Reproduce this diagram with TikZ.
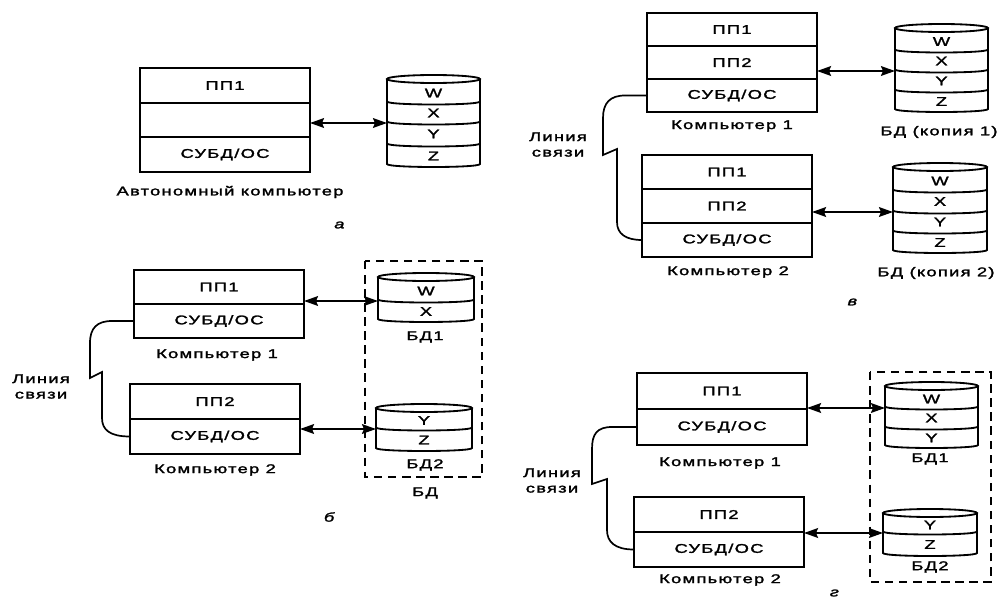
\documentclass[tikz,border=0pt]{standalone}
\usepackage{fontspec}
\setmainfont{Liberation Sans}[FakeStretch=1.45,LetterSpace=10,FakeBold=2]
\usetikzlibrary{arrows.meta,positioning}
\newcommand{\dbcan}[4]{%
	\draw[dbline] ({(#1+#2)/2},#3+4) ellipse ({(#2-#1)/2} and 4);
	\draw[dbline] (#1,#3+4) -- (#1,#4-3) .. controls (#1,#4+1) and (#2,#4+1) .. (#2,#4-3) -- (#2,#3+4);
}
\tikzset{
	complayer/.style={draw, line width=1.4pt, minimum width=4.25cm, minimum height=#1, inner sep=0pt, outer sep=0pt},
	dbrow/.style={inner sep=0pt, outer sep=0pt},
	dbline/.style={line width=1.3pt},
	xfer/.style={<->, >={Stealth[length=10pt,width=7pt,inset=1.5pt]}, line width=1.1pt},
	commline/.style={line width=1.2pt},
	dbframe/.style={line width=1.2pt, dash pattern=on 6pt off 4pt}
}

\begin{document}
\begin{tikzpicture}[x=0.025cm, y=-0.025cm, font=\small]
	\useasboundingbox (0,0) rectangle (1001,598);
	% a
	\node[complayer=0.875cm] (acA) at (225,85.5) {ПП1};
	\node[complayer=0.85cm, below=0pt of acA] (acB) {};
	\node[complayer=0.875cm, below=0pt of acB] (acC) {СУБД/ОС};
	\node (acap) at (230,192) {Автономный компьютер};
	\dbcan{387}{480}{75}{167}
	\foreach \y in {103,123,145} \draw[dbline] (387,\y-1.5) .. controls (387,\y+2.5) and (480,\y+2.5) .. (480,\y-1.5);
	\foreach \t/\c/\h in {W/93/20,X/113/20,Y/134/22,Z/156/22}
		\node[dbrow, minimum width=2.325cm, minimum height=\h*0.025cm] (a\t) at (433.5,\c) {\t};
	\draw[xfer] (aX.south west -| acB.east) -- (aX.south west);
	\node (alet) at (340,225) {\textit{а}};
	% v
	\node[complayer=0.825cm] (vc1A) at (732,29.5) {ПП1};
	\node[complayer=0.825cm, below=0pt of vc1A] (vc1B) {ПП2};
	\node[complayer=0.825cm, below=0pt of vc1B] (vc1C) {СУБД/ОС};
	\node (vc1cap) at (732,126) {Компьютер 1};
	\node[complayer=0.85cm] (vc2A) at (727,172) {ПП1};
	\node[complayer=0.85cm, below=0pt of vc2A] (vc2B) {ПП2};
	\node[complayer=0.85cm, below=0pt of vc2B] (vc2C) {СУБД/ОС};
	\node (vc2cap) at (728,272) {Компьютер 2};
	\dbcan{895}{988}{24}{112}
	\foreach \y in {51,71,91} \draw[dbline] (895,\y-1.5) .. controls (895,\y+2.5) and (988,\y+2.5) .. (988,\y-1.5);
	\foreach \t/\c/\h in {W/41.5/19,X/61/20,Y/81/20,Z/101.5/21}
		\node[dbrow, minimum width=2.325cm, minimum height=\h*0.025cm] (v\t1) at (941.5,\c) {\t};
	\node (vdb1cap) at (939,132) {БД (копия 1)};
	\dbcan{893}{987}{163}{253}
	\foreach \y in {191,212,232} \draw[dbline] (893,\y-1.5) .. controls (893,\y+2.5) and (987,\y+2.5) .. (987,\y-1.5);
	\foreach \t/\c/\h in {W/181/20,X/201.5/21,Y/222/20,Z/242.5/21}
		\node[dbrow, minimum width=2.35cm, minimum height=\h*0.025cm] (v\t2) at (940,\c) {\t};
	\node (vdb2cap) at (936,273) {БД (копия 2)};
	\draw[xfer] (vX1.south west -| vc1B.east) -- (vX1.south west);
	\draw[xfer] (vX2.south west -| vc2B.east) -- (vX2.south west);
	\draw[commline] (vc1C.west) -- (625,95.5) .. controls (610,95.5) and (603,103) .. (603,118) -- (603,155) -- (617,149) -- (617,222) .. controls (617,234) and (626,240) .. (vc2C.west);
	\node[align=center] (vlink) at (558,144.5) {Линия\\связи};
	\node (vlet) at (853,302) {\textit{в}};
	% b
	\node[complayer=0.85cm] (bc1A) at (219,287) {ПП1};
	\node[complayer=0.85cm, below=0pt of bc1A] (bc1B) {СУБД/ОС};
	\node (bc1cap) at (217,355) {Компьютер 1};
	\node[complayer=0.875cm] (bc2A) at (215,401.5) {ПП2};
	\node[complayer=0.875cm, below=0pt of bc2A] (bc2B) {СУБД/ОС};
	\node (bc2cap) at (215,470) {Компьютер 2};
	\dbcan{378}{474}{273}{322}
	\draw[dbline] (378,299.5) .. controls (378,303.5) and (474,303.5) .. (474,299.5);
	\foreach \t/\c/\h in {W/291/20,X/311.5/21}
		\node[dbrow, minimum width=2.4cm, minimum height=\h*0.025cm] (b\t1) at (426,\c) {\t};
	\node (bdb1cap) at (425,337) {БД1};
	\dbcan{376}{472}{404}{451}
	\draw[dbline] (376,427.5) .. controls (376,431.5) and (472,431.5) .. (472,427.5);
	\foreach \t/\c/\h in {Y/420.5/17,Z/440/22}
		\node[dbrow, minimum width=2.4cm, minimum height=\h*0.025cm] (b\t2) at (424,\c) {\t};
	\node (bdb2cap) at (425,465) {БД2};
	\draw[dbframe] (365,261) rectangle (482,477);
	\node (bdbcap) at (425,493) {БД};
	\draw[xfer] (bW1.south west -| bc1A.east) -- (bW1.south west);
	\draw[xfer] (bY2.south west -| bc2B.east) -- (bY2.south west);
	\draw[commline] (bc1B.west) -- (112,321) .. controls (97,321) and (90,328) .. (90,343) -- (90,378) -- (102,372) -- (102,418) .. controls (102,430) and (110,436.5) .. (bc2B.west);
	\node[align=center] (blink) at (41,386.5) {Линия\\связи};
	\node (blet) at (330,517) {\textit{б}};
	% g
	\node[complayer=0.9cm] (gc1A) at (722,391) {ПП1};
	\node[complayer=0.9cm, below=0pt of gc1A] (gc1B) {СУБД/ОС};
	\node (gc1cap) at (720,463) {Компьютер 1};
	\node[complayer=0.875cm] (gc2A) at (719,514.5) {ПП2};
	\node[complayer=0.875cm, below=0pt of gc2A] (gc2B) {СУБД/ОС};
	\node (gc2cap) at (720,580) {Компьютер 2};
	\dbcan{885}{978}{382}{448}
	\foreach \y in {408,428} \draw[dbline] (885,\y-1.5) .. controls (885,\y+2.5) and (978,\y+2.5) .. (978,\y-1.5);
	\foreach \t/\c/\h in {W/399/18,X/418/20,Y/438/20}
		\node[dbrow, minimum width=2.325cm, minimum height=\h*0.025cm] (g\t1) at (931.5,\c) {\t};
	\node (gdb1cap) at (930,459) {БД1};
	\dbcan{883}{977}{509}{556}
	\draw[dbline] (883,531.5) .. controls (883,535.5) and (977,535.5) .. (977,531.5);
	\foreach \t/\c/\h in {Y/525/16,Z/544.5/23}
		\node[dbrow, minimum width=2.35cm, minimum height=\h*0.025cm] (g\t2) at (930,\c) {\t};
	\node (gdb2cap) at (930,567) {БД2};
	\draw[dbframe] (870,372) rectangle (991,582);
	\draw[xfer] (gW1.south west -| gc1A.east) -- (gW1.south west);
	\draw[xfer] (gY2.south west -| gc2A.east) -- (gY2.south west);
	\draw[commline] (gc1B.west) -- (612,427) .. controls (597,427) and (592,434) .. (592,449) -- (592,484) -- (607,479) -- (607,530) .. controls (607,542) and (615,549.5) .. (gc2B.west);
	\node[align=center] (glink) at (552,480.5) {Линия\\связи};
	\node (glet) at (835,593) {\textit{г}};
\end{tikzpicture}
\end{document}
